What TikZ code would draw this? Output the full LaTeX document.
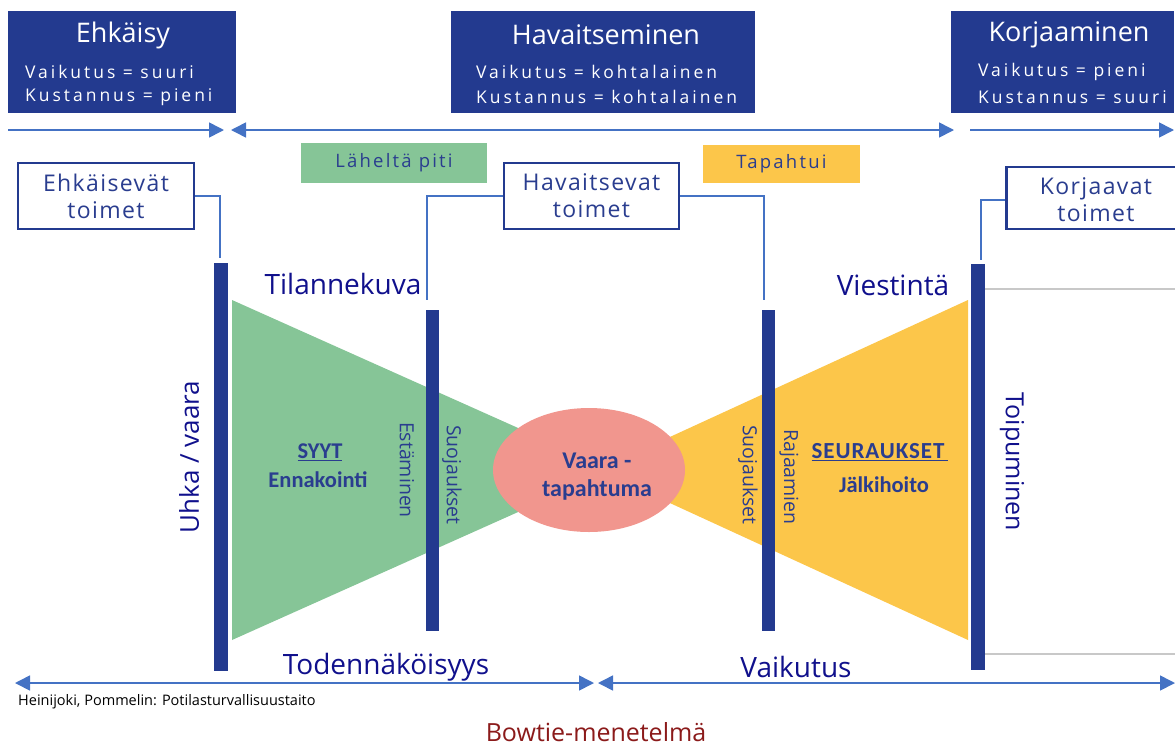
\documentclass[tikz,border=0pt]{standalone}
\usepackage{fontspec}
\setmainfont{Open Sans}
\newfontfamily\calfam{Carlito}
\newfontfamily\spc[LetterSpace=17]{Open Sans}
\newfontfamily\spl[LetterSpace=6]{Open Sans}
\newfontfamily\spt[LetterSpace=12]{Open Sans}
\newfontfamily\calsp[LetterSpace=4]{Carlito}
\usetikzlibrary{arrows.meta,shapes.geometric}
\definecolor{navy}{HTML}{233A8F}
\definecolor{dnavy}{HTML}{10108C}
\definecolor{txtblue}{HTML}{2A3D8F}
\definecolor{arrblue}{HTML}{4472C4}
\definecolor{lgreen}{HTML}{86C597}
\definecolor{lyellow}{HTML}{FCC64A}
\definecolor{salmon}{HTML}{F1968E}
\definecolor{bowred}{HTML}{8B1A1A}
\definecolor{lgray}{HTML}{C8C8C8}
\tikzset{
  topbox/.style={fill=navy, draw=none, inner sep=0pt},
  toptitle/.style={text=white, font=\fontsize{27}{30}\selectfont, inner sep=0pt},
  topsub/.style={text=white, font=\spc\fontsize{17.5}{20}\selectfont, anchor=west, inner sep=0pt},
  actbox/.style={draw=navy, line width=2.6pt, fill=white, align=center, text=txtblue,
    font=\spl\fontsize{23}{27}\selectfont, inner sep=0pt},
  acttext/.style={text=txtblue, font=\spl\fontsize{23}{27}\selectfont, align=center, inner sep=0pt},
  tagbox/.style={draw=none, inner sep=0pt, text=txtblue, font=\spt\fontsize{18.5}{20}\selectfont},
  conn/.style={draw=arrblue, line width=1.8pt},
  barv/.style={fill=navy, draw=none, minimum width=13pt, inner sep=0pt},
  bigarrow/.style={draw=arrblue, line width=1.6pt, -{Triangle[length=15pt,width=15pt]}},
  dblarrow/.style={draw=arrblue, line width=1.6pt, {Triangle[length=15pt,width=15pt]}-{Triangle[length=15pt,width=15pt]}},
  axlabel/.style={text=dnavy, font=\fontsize{28}{30}\selectfont, inner sep=0pt},
  vlabel/.style={text=txtblue, font=\fontsize{19.5}{22}\selectfont, inner sep=0pt},
  boldlabel/.style={text=txtblue, font=\calfam\bfseries\fontsize{22.5}{26}\selectfont, inner sep=0pt},
  gline/.style={draw=lgray, line width=2pt}
}
\begin{document}
\begin{tikzpicture}[x=1pt,y=-1pt]
\useasboundingbox (0,0) rectangle (1175,745);

% top boxes
\node[topbox, minimum width=228pt, minimum height=102pt] (ehk) at (122,62) {};
\node[toptitle] (ehkt) at (123,35) {Ehkäisy};
\node[topsub] (ehk1) at (25,72) {Vaikutus = suuri};
\node[topsub] (ehk2) at (25,97) {Kustannus = pieni};

\node[topbox, minimum width=304pt, minimum height=102pt] (hav) at (603,62) {};
\node[toptitle] (havt) at (606,35) {Havaitseminen};
\node[topsub] (hav1) at (476,72) {Vaikutus = kohtalainen};
\node[topsub] (hav2) at (476,97) {Kustannus = kohtalainen};

\node[topbox, minimum width=223pt, minimum height=102pt] (kor) at (1062.5,62) {};
\node[toptitle] (kort) at (1069,35) {Korjaaminen};
\node[topsub] (kor1) at (978,72) {Vaikutus = pieni};
\node[topsub] (kor2) at (978,97) {Kustannus = suuri};

% top arrows
\coordinate (a1s) at (8,130); \coordinate (a1e) at (224,130);
\coordinate (a2s) at (231,130); \coordinate (a2e) at (954,130);
\coordinate (a3s) at (970,130); \coordinate (a3e) at (1174,130);
\draw[bigarrow] (a1s) -- (a1e);
\draw[dblarrow] (a2s) -- (a2e);
\draw[bigarrow] (a3s) -- (a3e);

% tags
\node[tagbox, fill=lgreen, minimum width=186pt, minimum height=40pt] (lah) at (394,163) {Läheltä piti};
\node[tagbox, fill=lyellow, minimum width=157pt, minimum height=38pt] (tap) at (781.5,164) {Tapahtui};

% shapes
\fill[lgreen] (232,300) -- (612,470) -- (232,640) -- cycle;
\fill[lyellow] (968,300) -- (598,470) -- (968,640) -- cycle;
\node[ellipse, fill=salmon, draw=none, minimum width=192pt, minimum height=124pt, inner sep=0pt] (ev) at (589,470) {};
\node[boldlabel, font=\calfam\bfseries\fontsize{24}{28}\selectfont, align=center] (evt) at (597,477) {Vaara -\\tapahtuma};

% bars
\node[barv, minimum width=14pt, minimum height=408pt] (b1) at (221,467) {};
\node[barv, minimum height=321pt] (b2) at (432.5,470.5) {};
\node[barv, minimum height=321pt] (b3) at (768.5,470.5) {};
\node[barv, minimum width=14pt, minimum height=406pt] (b4) at (978,467) {};

% gray lines
\coordinate (g1) at (1175,289); \coordinate (g2) at (1175,654);
\draw[gline] (b4.east |- g1) -- (g1);
\draw[gline] (b4.east |- g2) -- (g2);

% action boxes
\node[actbox, minimum width=176pt, minimum height=66pt] (ehkt2) at (106,196) {Ehkäisevät\\toimet};
\node[actbox, minimum width=175pt, minimum height=66pt] (havt2) at (591.5,196) {Havaitsevat\\toimet};
\node[actbox, minimum width=190pt, minimum height=62pt, anchor=west] (kort2) at (1005,198) {};
\node[acttext] (kortx) at (1096,200) {Korjaavat\\toimet};

% connectors
\coordinate (c1) at (220,258);
\coordinate (c2) at (427,300);
\coordinate (c3) at (764,300);
\coordinate (c4) at (981,260);
\draw[conn] (ehkt2.east) -| (c1);
\draw[conn] (havt2.west) -| (c2);
\draw[conn] (havt2.east) -| (c3);
\draw[conn] (kort2.west |- 0,200) -| (c4);

% labels
\node[axlabel] (tk) at (343,284) {Tilannekuva};
\node[axlabel] (vi) at (893,285) {Viestintä};
\node[axlabel, font=\fontsize{26}{30}\selectfont, rotate=90] (uh) at (189,457) {Uhka / vaara};
\node[axlabel, font=\fontsize{25}{30}\selectfont, rotate=-90] (to) at (1012,462) {Toipuminen};

\node[boldlabel] (syyt) at (320,452) {\underline{SYYT}};
\node[boldlabel] (enn) at (318,480) {Ennakointi};
\node[vlabel, rotate=-90] (est) at (407,470) {Estäminen};
\node[vlabel, rotate=-90] (suo1) at (452,475) {Suojaukset};
\node[vlabel, rotate=-90] (suo2) at (748,475) {Suojaukset};
\node[vlabel, rotate=-90] (raj) at (789,477) {Rajaamien};
\node[boldlabel, font=\calsp\bfseries\fontsize{23}{26}\selectfont] (seu) at (880,452) {\underline{SEURAUKSET\,}};
\node[boldlabel] (jal) at (884,485) {Jälkihoito};

% bottom
\node[axlabel] (tod) at (386,667) {Todennäköisyys};
\node[axlabel] (vai) at (796,667) {Vaikutus};
\coordinate (d1s) at (15,683); \coordinate (d1e) at (594,683);
\coordinate (d2s) at (598,683); \coordinate (d2e) at (1175,683);
\draw[dblarrow] (d1s) -- (d1e);
\draw[dblarrow] (d2s) -- (d2e);

\node[anchor=west, inner sep=0pt, font=\fontsize{14.5}{16}\selectfont] (src) at (18,702) {Heinijoki, Pommelin: Potilasturvallisuustaito};
\node[anchor=base, inner sep=0pt, text=bowred, font=\fontsize{25}{28}\selectfont] (bow) at (596,741) {Bowtie-menetelmä};
\end{tikzpicture}
\end{document}
